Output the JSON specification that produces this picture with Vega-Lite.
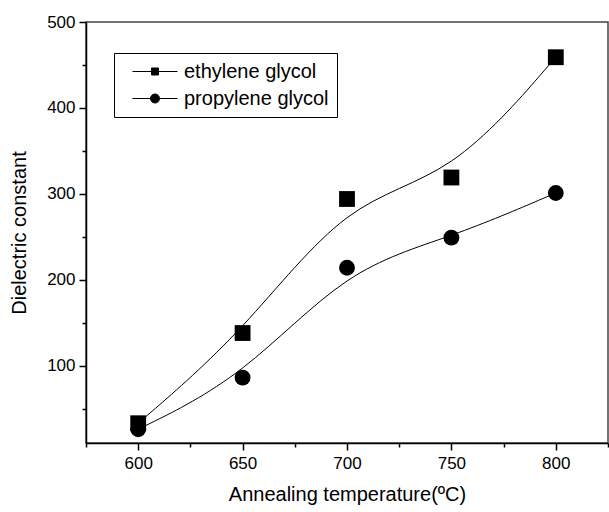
{
  "$schema": "https://vega.github.io/schema/vega-lite/v6.json",
  "width": 522,
  "height": 421,
  "autosize": "none",
  "padding": {"left": 86, "top": 22, "right": 1, "bottom": 69},
  "background": "white",
  "config": {
    "font": "Liberation Sans",
    "view": {"stroke": "#444444", "strokeWidth": 1.5},
    "axis": {
      "domainColor": "black", "domainWidth": 1.5, "tickColor": "black", "tickWidth": 1.5,
      "grid": false, "labelColor": "black", "titleColor": "black",
      "labelFont": "Liberation Sans", "titleFont": "Liberation Sans",
      "labelFontSize": 17, "titleFontSize": 20, "titleFontWeight": "normal",
      "labelOverlap": false, "labelFlush": false
    }
  },
  "data": {
    "values": [
      {"temp": 600, "value": 33, "series": "ethylene glycol"},
      {"temp": 650, "value": 138, "series": "ethylene glycol"},
      {"temp": 700, "value": 294, "series": "ethylene glycol"},
      {"temp": 750, "value": 319, "series": "ethylene glycol"},
      {"temp": 800, "value": 459, "series": "ethylene glycol"},
      {"temp": 600, "value": 26, "series": "propylene glycol"},
      {"temp": 650, "value": 86, "series": "propylene glycol"},
      {"temp": 700, "value": 214, "series": "propylene glycol"},
      {"temp": 750, "value": 249, "series": "propylene glycol"},
      {"temp": 800, "value": 301, "series": "propylene glycol"}
    ]
  },
  "encoding": {
    "x": {
      "field": "temp", "type": "quantitative",
      "scale": {"domain": [575, 825], "nice": false, "zero": false},
      "axis": {
        "title": "Annealing temperature(ºC)",
        "values": [575, 600, 625, 650, 675, 700, 725, 750, 775, 800, 825],
        "labelExpr": "datum.value % 50 === 0 ? datum.label : ''",
        "tickSize": {"condition": {"test": "datum.value % 50 === 0", "value": 7}, "value": 4},
        "labelPadding": 5,
        "titlePadding": 13
      }
    },
    "y": {
      "field": "value", "type": "quantitative",
      "scale": {"domain": [10, 500], "nice": false, "zero": false},
      "axis": {
        "title": "Dielectric constant",
        "values": [50, 100, 150, 200, 250, 300, 350, 400, 450, 500],
        "labelExpr": "datum.value % 100 === 0 ? datum.label : ''",
        "tickSize": {"condition": {"test": "datum.value % 100 === 0", "value": 7}, "value": 4},
        "labelPadding": 4,
        "titlePadding": 17
      }
    }
  },
  "layer": [
    {
      "mark": {"type": "line", "interpolate": "basis", "color": "black", "strokeWidth": 1},
      "encoding": {"detail": {"field": "series", "type": "nominal"}}
    },
    {
      "mark": {"type": "point", "filled": true, "opacity": 1, "size": 250},
      "encoding": {
        "shape": {
          "condition": {"test": "datum.series === 'ethylene glycol'", "value": "square"},
          "value": "circle"
        },
        "color": {
          "field": "series", "type": "nominal",
          "scale": {"domain": ["ethylene glycol", "propylene glycol"], "range": ["black", "black"]},
          "legend": {
            "title": null,
            "orient": "none",
            "legendX": 28,
            "legendY": 31,
            "padding": 8,
            "fillColor": "white",
            "strokeColor": "black",
            "symbolSize": 400,
            "symbolStrokeWidth": 1,
            "symbolOpacity": 1,
            "labelFontSize": 20,
            "labelFont": "Liberation Sans",
            "labelColor": "black",
            "labelOffset": 41,
            "rowPadding": 6,
            "encode": {
              "symbols": {
                "update": {
                  "stroke": {"value": "black"},
                  "strokeWidth": {"value": 1},
                  "shape": {"signal": "datum.value === 'ethylene glycol' ? 'M0,0H1.9M2.6,0H4.5M1.9,-0.35H2.6V0.35H1.9Z' : 'M0,0H1.8M2.7,0H4.5M2.7,0A0.45,0.45,0,1,1,1.8,0A0.45,0.45,0,1,1,2.7,0Z'"}
                }
              }
            }
          }
        }
      }
    }
  ]
}
